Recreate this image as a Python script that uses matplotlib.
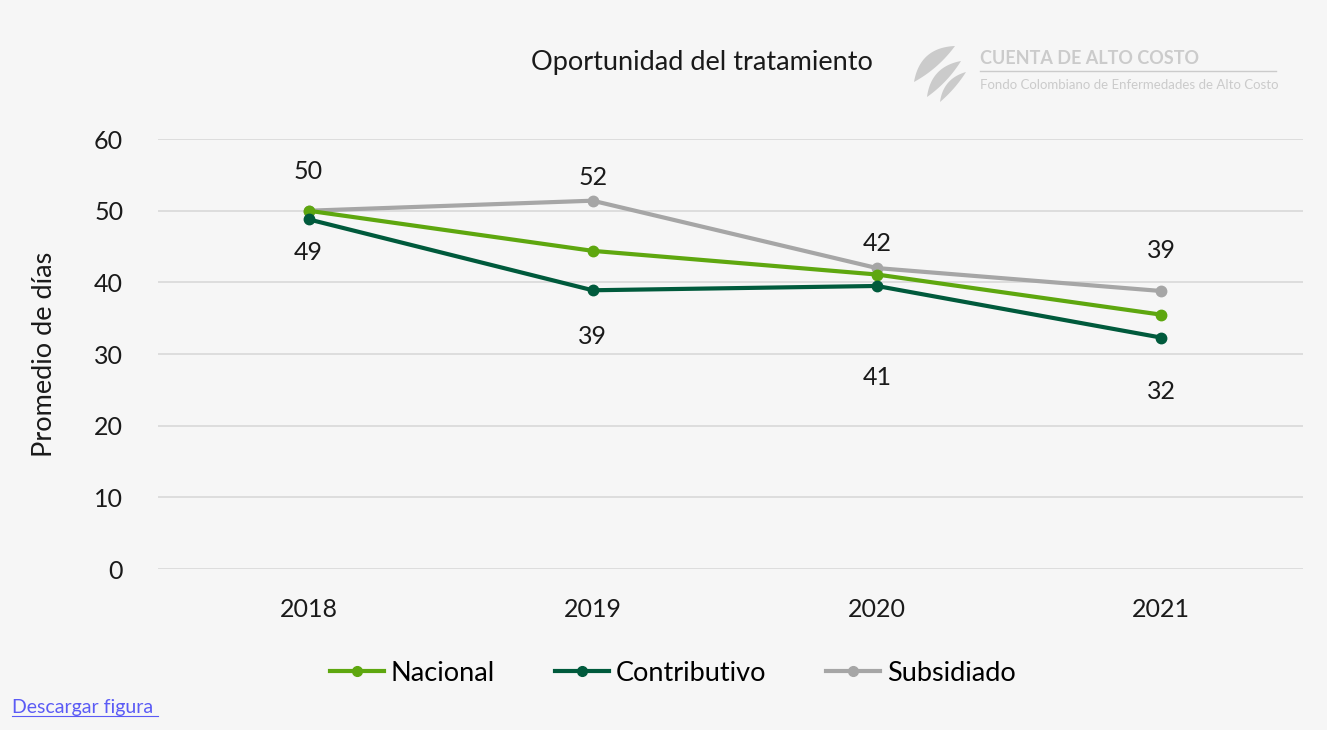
import numpy as np
import matplotlib.pyplot as plt
from matplotlib.patches import Polygon
from matplotlib.lines import Line2D

BG = "#f6f6f6"
C_NAC = "#5ea70f"
C_CON = "#005a3c"
C_SUB = "#a6a6a6"
LOGO = "#cbcbcb"
TXT = "#1a1a1a"

years = ["2018", "2019", "2020", "2021"]
nacional = [50.0, 44.4, 41.1, 35.5]
contributivo = [48.8, 38.9, 39.5, 32.3]
subsidiado = [50.0, 51.4, 42.0, 38.8]
labels_above = ["50", "52", "42", "39"]
labels_below = ["49", "39", "41", "32"]

# where the data labels sit relative to the top / bottom point (data units)
off_above = [5.5, 3.2, 3.4, 5.6]
off_below = [-4.6, -6.4, -12.8, -7.5]

plt.rcParams["font.family"] = ["Lato", "DejaVu Sans"]

fig = plt.figure(figsize=(13.27, 7.30), dpi=100)
fig.patch.set_facecolor(BG)
ax = fig.add_axes([0.119, 0.2205, 0.863, 0.589])
ax.set_facecolor(BG)

x = np.arange(len(years))
ax.plot(x, nacional, "-o", color=C_NAC, lw=3, ms=7.5, zorder=4, label="Nacional")
ax.plot(x, contributivo, "-o", color=C_CON, lw=3, ms=7.5, zorder=4, label="Contributivo")
ax.plot(x, subsidiado, "-o", color=C_SUB, lw=3, ms=7.5, zorder=3, label="Subsidiado")

for i in range(len(years)):
    top = max(nacional[i], contributivo[i], subsidiado[i])
    bot = min(nacional[i], contributivo[i], subsidiado[i])
    ax.text(x[i], top + off_above[i], labels_above[i], ha="center", va="center",
            fontsize=18, color=TXT)
    ax.text(x[i], bot + off_below[i], labels_below[i], ha="center", va="center",
            fontsize=18, color=TXT)

ax.set_xlim(-0.53, 3.5)
ax.set_ylim(0, 60)
ax.set_yticks(range(0, 61, 10))
ax.set_xticks(x)
ax.set_xticklabels(years)
ax.grid(axis="y", color="#d9d9d9", lw=1.2)
ax.set_axisbelow(True)
for s in ax.spines.values():
    s.set_visible(False)
ax.tick_params(length=0, labelsize=18, colors=TXT)
ax.tick_params(axis="x", pad=21)
ax.tick_params(axis="y", pad=25)
ax.set_ylabel("Promedio de días", fontsize=19.5, color=TXT)
ax.yaxis.set_label_coords(-0.088, 0.5)

fig.text(0.529, 0.915, "Oportunidad del tratamiento", ha="center", va="center",
         fontsize=19.5, color=TXT)

# legend
handles = [Line2D([], [], color=c, lw=3, marker="o", ms=7) for c in (C_NAC, C_CON, C_SUB)]
fig.legend(handles, ["Nacional", "Contributivo", "Subsidiado"], loc="center",
           bbox_to_anchor=(0.507, 0.078), ncol=3, frameon=False, fontsize=19.5,
           handlelength=2.0, handletextpad=0.25, columnspacing=2.2)

# logo (pixel coordinates over the whole figure)
pax = fig.add_axes([0, 0, 1, 1], zorder=-1)
pax.set_xlim(0, 1327)
pax.set_ylim(730, 0)
pax.axis("off")


def crescent(p0, p1, b_out, b_in, n=30):
    p0 = np.array(p0, float)
    p1 = np.array(p1, float)
    d = p1 - p0
    nrm = np.array([d[1], -d[0]]) / np.hypot(*d)
    if nrm[0] > 0:
        nrm = -nrm
    mid = (p0 + p1) / 2
    t = np.linspace(0, 1, n)[:, None]
    c1 = mid + nrm * b_out
    c2 = mid + nrm * b_in
    outer = (1 - t) ** 2 * p0 + 2 * (1 - t) * t * c1 + t ** 2 * p1
    inner = (1 - t) ** 2 * p1 + 2 * (1 - t) * t * c2 + t ** 2 * p0
    return np.vstack([outer, inner])


for p0, p1, bo, bi in [((914, 82), (955, 46), 22, -6),
                       ((927, 97), (961, 61), 18, -5),
                       ((940, 102), (966, 72), 13, -3)]:
    pax.add_patch(Polygon(crescent(p0, p1, bo, bi), closed=True, color=LOGO, lw=0))

pax.text(980, 59, "CUENTA DE ALTO COSTO", fontsize=13, fontweight="bold",
         color=LOGO, va="center", ha="left")
pax.plot([980, 1276], [71, 71], color=LOGO, lw=1)
pax.text(980, 85, "Fondo Colombiano de Enfermedades de Alto Costo", fontsize=9.5,
         color=LOGO, va="center", ha="left")

pax.text(12, 707, "Descargar figura", fontsize=14, color="#5b5bf5",
         va="center", ha="left")
pax.plot([12, 158], [716, 716], color="#5b5bf5", lw=0.8)

fig.savefig("out.png", dpi=100, facecolor=BG)
